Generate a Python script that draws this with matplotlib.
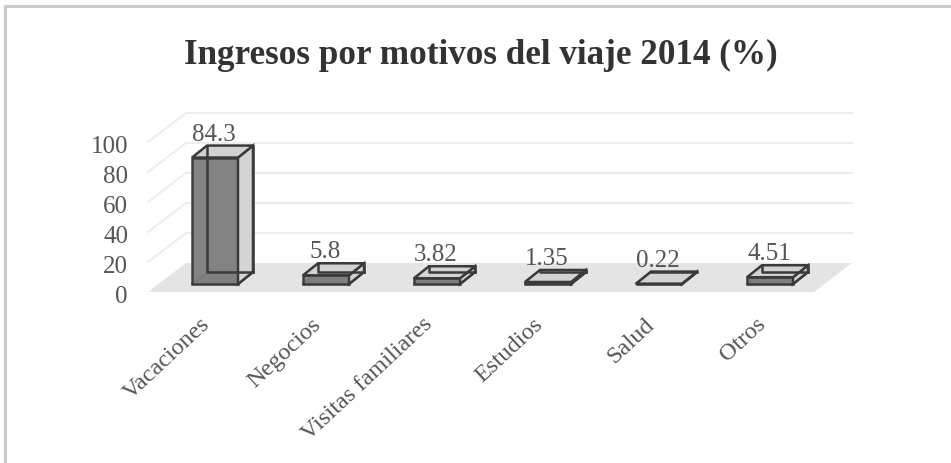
import matplotlib
matplotlib.use("Agg")
import matplotlib.pyplot as plt
from matplotlib.patches import Polygon

categories = ["Vacaciones", "Negocios", "Visitas familiares", "Estudios", "Salud", "Otros"]
values = [84.3, 5.8, 3.82, 1.35, 0.22, 4.51]
value_labels = ["84.3", "5.8", "3.82", "1.35", "0.22", "4.51"]
y_ticks = [0, 20, 40, 60, 80, 100]
title = "Ingresos por motivos del viaje 2014 (%)"

W, H = 951, 464
# oblique projection, all in pixels of the picture
PX_PER_UNIT = 1.5
FLOOR_FRONT_Y = 293
FLOOR_BACK_Y = 264
FLOOR_X = (148, 814)
FLOOR_DX = 38
BAR_X0 = 192
BAR_STEP = 111
BAR_W = 46
BAR_FRONT_Y = 285
BAR_DX = 15
BAR_DY = 12

plt.rcParams["font.family"] = ["Liberation Serif", "DejaVu Serif"]
fig = plt.figure(figsize=(W / 100, H / 100), dpi=100)
ax = fig.add_axes([0, 0, 1, 1])
ax.set_xlim(0, W)
ax.set_ylim(H, 0)
ax.axis("off")

# frame: only top and left show in the picture
ax.plot([5, 5, W], [H, 7, 7], color="#cbcbcb", lw=2.2, zorder=1)

# floor
ax.add_patch(Polygon([(FLOOR_X[0], FLOOR_FRONT_Y), (FLOOR_X[1], FLOOR_FRONT_Y),
                      (FLOOR_X[1] + FLOOR_DX, FLOOR_BACK_Y), (FLOOR_X[0] + FLOOR_DX, FLOOR_BACK_Y)],
                     fc="#e4e4e4", ec="none", zorder=1))

# gridlines on back and side wall + tick labels
for t in y_ticks:
    dy = t * PX_PER_UNIT
    if t > 0:
        ax.plot([FLOOR_X[0], FLOOR_X[0] + FLOOR_DX, FLOOR_X[1] + FLOOR_DX],
                [FLOOR_FRONT_Y - dy, FLOOR_BACK_Y - dy, FLOOR_BACK_Y - dy],
                color="#ececec", lw=1.3, zorder=1)
    ax.text(128, FLOOR_FRONT_Y - dy + 4, str(t), ha="right", va="center", fontsize=18, color="#555555")

# bars
edge = "#3a3a3a"
for i, (cat, v, lab) in enumerate(zip(categories, values, value_labels)):
    x0 = BAR_X0 + i * BAR_STEP
    x1 = x0 + BAR_W
    y0 = BAR_FRONT_Y
    y1 = y0 - v * PX_PER_UNIT
    lw = 1.8
    # back faces
    ax.add_patch(Polygon([(x0 + BAR_DX, y0 - BAR_DY), (x1 + BAR_DX, y0 - BAR_DY),
                          (x1 + BAR_DX, y1 - BAR_DY), (x0 + BAR_DX, y1 - BAR_DY)],
                         fc="#d0d0d0", ec=edge, lw=lw, zorder=2))
    ax.add_patch(Polygon([(x0, y0), (x1, y0), (x1 + BAR_DX, y0 - BAR_DY), (x0 + BAR_DX, y0 - BAR_DY)],
                         fc="#8c8c8c", ec=edge, lw=lw, zorder=3))
    # front, side, top
    ax.add_patch(Polygon([(x0, y0), (x1, y0), (x1, y1), (x0, y1)],
                         fc="#7f7f7f", ec=edge, lw=lw, alpha=0.95, zorder=4))
    ax.add_patch(Polygon([(x1, y0), (x1 + BAR_DX, y0 - BAR_DY), (x1 + BAR_DX, y1 - BAR_DY), (x1, y1)],
                         fc="#d4d4d4", ec=edge, lw=lw, zorder=4))
    ax.add_patch(Polygon([(x0, y1), (x1, y1), (x1 + BAR_DX, y1 - BAR_DY), (x0 + BAR_DX, y1 - BAR_DY)],
                         fc="#d2d2d2", ec=edge, lw=lw, zorder=4))
    # hidden back edge shows through the front face
    ax.plot([x0 + BAR_DX, x0 + BAR_DX, x1 + BAR_DX], [y1 - BAR_DY, y0 - BAR_DY, y0 - BAR_DY],
            color=edge, lw=lw, zorder=5)
    ax.text(x0 + BAR_DX + 7, y1 - BAR_DY - 1, lab, ha="center", va="bottom", fontsize=18, color="#555555")
    ax.text(x0 + 8, 314, cat, rotation=43, rotation_mode="anchor", ha="right", va="top",
            fontsize=17.5, color="#555555")

ax.text(481, 55, title, ha="center", va="center", fontsize=25.3, fontweight="bold", color="#333333")

fig.savefig("out.png", dpi=100)
